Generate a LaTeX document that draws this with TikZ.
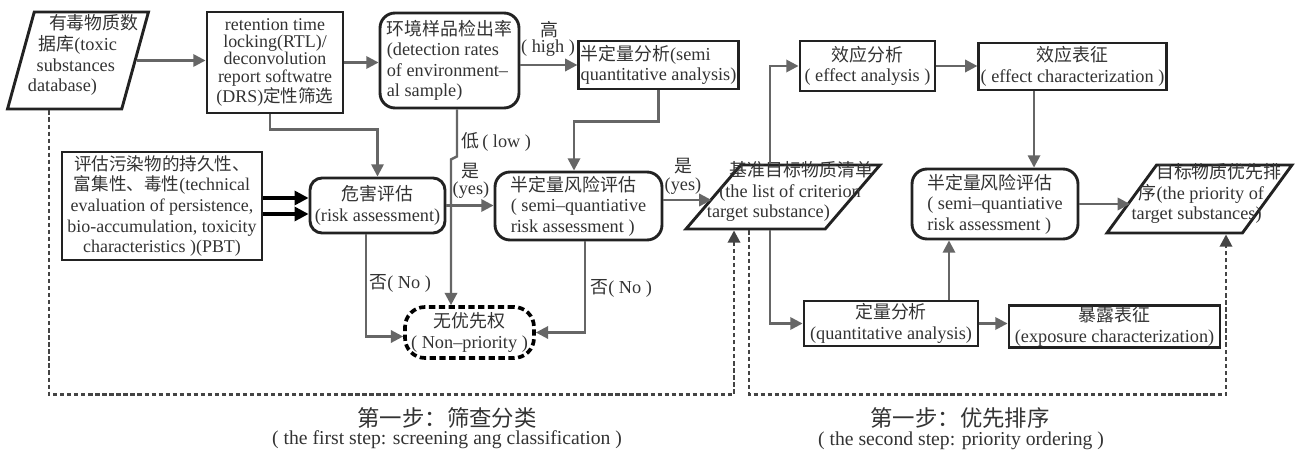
\documentclass[tikz,border=0pt]{standalone}
\usepackage{fontspec}
\setmainfont{Liberation Serif}
\newfontfamily\cjk{Noto Sans CJK SC}[Scale=0.98]
\newcommand\zh[1]{{\cjk #1}}
\newcommand\ztext[2][0pt]{\makebox[0pt]{\hspace*{#1}\smash{\begin{tabular}[c]{@{}l@{}}#2\end{tabular}}}}
\usetikzlibrary{arrows.meta,shapes.geometric}
\definecolor{bd}{HTML}{222222}
\definecolor{ar}{HTML}{666666}
\definecolor{tx}{HTML}{333333}
\definecolor{dl}{HTML}{444444}
\begin{document}
\begin{tikzpicture}[x=0.02cm,y=-0.02cm,
  font=\fontsize{10.4}{11.6}\selectfont, text=tx,
  box/.style={draw=bd, line width=1.65pt, inner sep=1pt, align=center},
  rbox/.style={box, rounded corners=0.3cm},
  para/.style={box, trapezium, trapezium stretches=true},
  arr/.style={draw=ar, line width=1.4pt, -{Triangle[length=7pt,width=7pt]}},
  blk/.style={draw=black, line width=1.8pt, -{Triangle[length=8pt,width=8pt]}},
  dsh/.style={draw=dl, line width=1.5pt, dash pattern=on 2.4pt off 1.6pt},
  lbl/.style={inner sep=0pt, text=tx}]
\useasboundingbox[fill=white] (0,0) rectangle (1312,459);

% ---------- nodes ----------
\node[para, trapezium left angle=73, trapezium right angle=107,
      minimum width=2.82cm, minimum height=1.94cm] (db) at (78,60.5)
  {\ztext[6pt]{\hspace*{12pt}\zh{有毒物质数}\\\hspace*{6pt}\zh{据库}(toxic\\\hspace*{5pt}substances\\database)}};
\node[box, minimum width=2.72cm, minimum height=2.02cm,
      font=\fontsize{10.2}{9.9}\selectfont] (rtl) at (275,62.5)
  {retention time\\locking(RTL)/\\deconvolution\\report softwatre\\(DRS)\zh{定性筛选}};
\node[rbox, align=left, minimum width=2.78cm, minimum height=1.9cm] (env) at (449.5,60.5)
  {\zh{环境样品检出率}\\(detection rates\\of environment--\\al sample)};
\node[box, align=left, minimum width=3.18cm, minimum height=0.96cm] (sqa) at (658.5,65)
  {\zh{半定量分析}(semi\\quantitative analysis)};
\node[box, minimum width=2.7cm, minimum height=1.0cm] (ea) at (867.5,66)
  {\zh{效应分析}\\( effect analysis )};
\node[box, minimum width=3.5cm, minimum height=0.94cm] (ec) at (1072.5,66.5)
  {\zh{效应表征}\\( effect characterization )};

\node[box, minimum width=4.0cm, minimum height=2.16cm,
      font=\fontsize{10.2}{11.8}\selectfont] (pbt) at (162,206)
  {\zh{评估污染物的持久性、}\\\zh{富集性、毒性}(technical\\evaluation of persistence,\\bio-accumulation, toxicity\\characteristics )(PBT)};
\node[box, rounded corners=0.24cm, minimum width=2.7cm, minimum height=1.1cm] (risk) at (377.5,205.5)
  {\zh{危害评估}\\(risk assessment)};
\node[rbox, align=left, minimum width=3.34cm, minimum height=1.36cm] (sr1) at (578.5,206)
  {\zh{半定量风险评估}\\( semi--quantiative\\risk assessment )};
\node[para, trapezium left angle=57, trapezium right angle=123,
      minimum width=3.88cm, minimum height=1.28cm] (list) at (783,197)
  {\ztext[8pt]{\hspace*{13pt}\zh{基准目标物质清单}\\\hspace*{7pt}(the list of criterion\\target substance)}};
\node[rbox, align=left, minimum width=3.32cm, minimum height=1.4cm] (sr2) at (995,204)
  {\zh{半定量风险评估}\\( semi--quantiative\\risk assessment )};
\node[para, trapezium left angle=60, trapezium right angle=120,
      minimum width=3.7cm, minimum height=1.36cm] (tg) at (1199.5,199)
  {\ztext[8pt]{\hspace*{14pt}\zh{目标物质优先排}\\\hspace*{4pt}\zh{序}(the priority of\\target substances)}};

\node[box, draw=black, line width=2.1pt, dash pattern=on 3.6pt off 2pt,
      rounded corners=0.4cm, minimum width=2.58cm, minimum height=1.02cm] (nonp) at (469.5,332.5)
  {\zh{无优先权}\\( Non--priority )};
\node[box, minimum width=3.48cm, minimum height=0.9cm] (qa) at (891,323.5)
  {\zh{定量分析}\\(quantitative analysis)};
\node[box, minimum width=4.22cm, minimum height=0.82cm] (ex) at (1114.5,326.5)
  {\zh{暴露表征}\\(exposure characterization)};

% ---------- labels ----------
\node[lbl] (lh1) at (549,30) {\zh{高}};
\node[lbl] (lh2) at (548,48) {( high )};
\node[lbl, anchor=west] (llow) at (461,142) {\zh{低}\,( low )};
\node[lbl] (ly1) at (470,171) {\zh{是}};
\node[lbl] (ly2) at (471,190) {(yes)};
\node[lbl] (ly3) at (683,166) {\zh{是}};
\node[lbl] (ly4) at (683,186) {(yes)};
\node[lbl, anchor=west] (ln1) at (369,283) {\zh{否}( No )};
\node[lbl, anchor=west] (ln2) at (590,288) {\zh{否}( No )};

\node[lbl, font=\fontsize{13}{14}\selectfont] (c1a) at (447,418) {\zh{第一步：筛查分类}};
\node[lbl, font=\fontsize{11.2}{13}\selectfont] (c1b) at (447,440) {( the first step: screening ang classification )};
\node[lbl, font=\fontsize{13}{14}\selectfont] (c2a) at (960,418) {\zh{第一步：优先排序}};
\node[lbl, font=\fontsize{11.2}{13}\selectfont] (c2b) at (961,441) {( the second step: priority ordering )};

% ---------- connectors ----------
\draw[arr] (db.east) -- (db.east -| rtl.west);
\draw[arr] (rtl.east) -- (rtl.east -| env.west);
\draw[arr] (env.east |- sqa.west) -- (sqa.west);
\draw[arr] ([xshift=-0.1cm]rtl.south) -- ++(0,15) -| (risk.north);
\draw[blk] ([yshift=0.16cm]pbt.east) -- ([yshift=0.16cm]pbt.east -| risk.west);
\draw[blk] ([yshift=-0.16cm]pbt.east) -- ([yshift=-0.16cm]pbt.east -| risk.west);
\draw[arr] (risk.east) -- (risk.east -| sr1.west);
\draw[arr] ([xshift=0.15cm]env.south) -- ++(0,47) -- ++(-6,3) -- ([xshift=-0.37cm]nonp.north);
\draw[arr] ([xshift=-0.23cm]risk.south) |- ([yshift=-0.08cm]nonp.west);
\draw[arr] ([xshift=0.13cm]sr1.south) |- (nonp.east);
\draw[arr] (sqa.south) -- ++(0,31) -| ([xshift=-0.09cm]sr1.north);
\draw[arr] ([yshift=0.12cm]sr1.east) -- ([yshift=0.12cm]sr1.east -| list.west);
\draw[arr] ([xshift=-0.26cm]list.north) |- (ea.west);
\draw[arr] ([xshift=-0.26cm]list.south) |- (qa.west);
\draw[arr] (ea.east) -- (ea.east -| ec.west);
\draw[arr] ([xshift=-0.77cm]ec.south) -- ([xshift=-0.77cm]ec.south |- sr2.north);
\draw[arr] ([xshift=1.16cm]qa.north) -- ([xshift=1.16cm]qa.north |- sr2.south);
\draw[arr] (qa.east) -- (qa.east -| ex.west);
\draw[arr] (sr2.east) -- (sr2.east -| tg.west);
\draw[dsh, -{Triangle[length=7pt,width=7pt]}] ([xshift=-0.58cm]db.south) -- ++(0,284) -| ([xshift=-0.98cm]list.south);
\draw[dsh, -{Triangle[length=7pt,width=7pt]}] ([xshift=-0.68cm]list.south) -- ++(0,164) -| ([xshift=0.53cm]tg.south);
\end{tikzpicture}
\end{document}
